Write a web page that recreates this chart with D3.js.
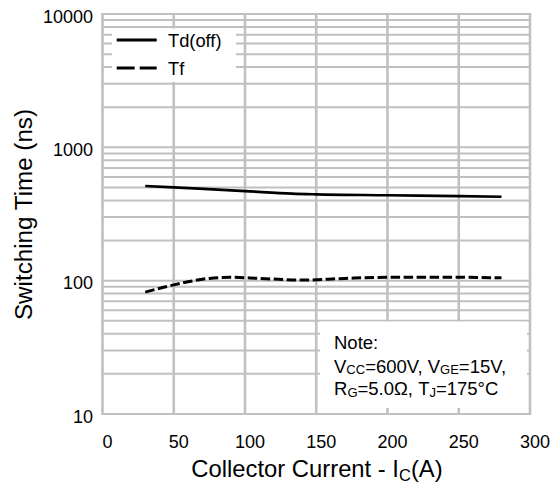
<!DOCTYPE html>
<html>
<head>
<meta charset="utf-8">
<script src="https://cdn.jsdelivr.net/npm/d3@7"></script>
<style>
  html, body { margin: 0; padding: 0; background: #fff; }
  svg { display: block; font-family: "Liberation Sans", Arial, sans-serif; }
</style>
</head>
<body>
<svg id="chart" width="560" height="488"></svg>
<script>
// Switching time vs collector current
const xTicks = [0, 50, 100, 150, 200, 250, 300];
const yTicks = [10, 100, 1000, 10000];

const tdCurrent = [30, 50, 100, 133, 150, 200, 250, 280];
const tdOff     = [513, 500, 470, 449, 444, 437, 430, 426];

const tfCurrent = [30, 50, 75, 90, 110, 140, 170, 200, 250, 280];
const tfValues  = [82, 93, 104, 106, 104, 101, 104, 106, 106, 105];

const seriesNames = ["Td(off)", "Tf"];

const svg = d3.select("#chart");
const plotL = 102.5, plotR = 530, plotT = 14, plotB = 414;

const x = d3.scaleLinear().domain([0, 300]).range([plotL, plotR]);
const y = d3.scaleLog().domain([10, 10000]).range([plotB, plotT]);

const gridColor = "#c0c0c0";
const font = "Liberation Sans, Arial, sans-serif";

// minor + major horizontal grid
const hLines = [];
for (let d = 10; d < 10000; d *= 10) {
  for (let m = 1; m <= 9; m++) hLines.push(d * m);
}
hLines.push(10000);
svg.append("g").selectAll("line").data(hLines).join("line")
  .attr("x1", plotL).attr("x2", plotR)
  .attr("y1", d => y(d)).attr("y2", d => y(d))
  .attr("stroke", gridColor).attr("stroke-width", 2);

// vertical grid
svg.append("g").selectAll("line").data(xTicks).join("line")
  .attr("x1", d => x(d)).attr("x2", d => x(d))
  .attr("y1", plotT - 1).attr("y2", plotB + 1)
  .attr("stroke", gridColor).attr("stroke-width", 2.6);

// tick labels
const xAxis = svg.append("g").attr("transform", `translate(4.5,${plotB})`)
  .call(d3.axisBottom(x).tickValues(xTicks).tickSize(0).tickPadding(0));
xAxis.select(".domain").remove();
xAxis.selectAll("text").attr("font-size", 18).attr("fill", "#000")
  .attr("font-family", font).attr("dy", null).attr("y", 34);

const yAxis = svg.append("g").attr("transform", `translate(${plotL},0)`)
  .call(d3.axisLeft(y).tickValues(yTicks).tickFormat(d3.format("d")).tickSize(0).tickPadding(9.5));
yAxis.select(".domain").remove();
yAxis.selectAll("text").attr("font-size", 18).attr("fill", "#000")
  .attr("font-family", font).attr("dy", "0.45em");

// axis titles
const xt = svg.append("text").attr("x", 317).attr("y", 476.5)
  .attr("text-anchor", "middle").attr("font-size", 23.8);
xt.append("tspan").text("Collector Current - I");
xt.append("tspan").attr("font-size", 16.5).attr("dy", 4).text("C");
xt.append("tspan").attr("dy", -4).text("(A)");

svg.append("text")
  .attr("transform", `translate(32,214.5) rotate(-90)`)
  .attr("text-anchor", "middle").attr("font-size", 24.2)
  .text("Switching Time (ns)");

// curves
const lineTd = d3.line().x((d, i) => x(tdCurrent[i])).y(d => y(d)).curve(d3.curveMonotoneX);
const lineTf = d3.line().x((d, i) => x(tfCurrent[i])).y(d => y(d)).curve(d3.curveMonotoneX);

svg.append("path").attr("d", lineTd(tdOff))
  .attr("fill", "none").attr("stroke", "#000").attr("stroke-width", 2.7);
svg.append("path").attr("d", lineTf(tfValues))
  .attr("fill", "none").attr("stroke", "#000").attr("stroke-width", 3)
  .attr("stroke-dasharray", "9.5,3.5");

// legend
svg.append("rect").attr("x", 112).attr("y", 28.5).attr("width", 124).attr("height", 53.5)
  .attr("fill", "#fff");
const legendRows = [
  { name: seriesNames[0], y: 40, dash: null },
  { name: seriesNames[1], y: 68, dash: "18,5" }
];
legendRows.forEach(r => {
  svg.append("line").attr("x1", 116.7).attr("x2", 156.7).attr("y1", r.y).attr("y2", r.y)
    .attr("stroke", "#000").attr("stroke-width", 3)
    .attr("stroke-dasharray", r.dash);
  svg.append("text").attr("x", 168).attr("y", r.y + 6.5).attr("font-size", 18.3).text(r.name);
});

// note box
svg.append("rect").attr("x", 320).attr("y", 321.5).attr("width", 207).attr("height", 86.5)
  .attr("fill", "#fff");
const nx = 334, fs = 18.5, sub = 13;
svg.append("text").attr("x", nx).attr("y", 349.3).attr("font-size", fs).text("Note:");
const l2 = svg.append("text").attr("x", nx).attr("y", 372.8).attr("font-size", fs);
l2.append("tspan").text("V");
l2.append("tspan").attr("font-size", sub).attr("dy", 1.5).text("CC");
l2.append("tspan").attr("dy", -1.5).text("=600V, V");
l2.append("tspan").attr("font-size", sub).attr("dy", 1.5).text("GE");
l2.append("tspan").attr("dy", -1.5).text("=15V,");
const l3 = svg.append("text").attr("x", nx).attr("y", 395.3).attr("font-size", fs);
l3.append("tspan").text("R");
l3.append("tspan").attr("font-size", sub).attr("dy", 1.5).text("G");
l3.append("tspan").attr("dy", -1.5).text("=5.0Ω, T");
l3.append("tspan").attr("font-size", sub).attr("dy", 1.5).text("J");
l3.append("tspan").attr("dy", -1.5).text("=175°C");
</script>
</body>
</html>
